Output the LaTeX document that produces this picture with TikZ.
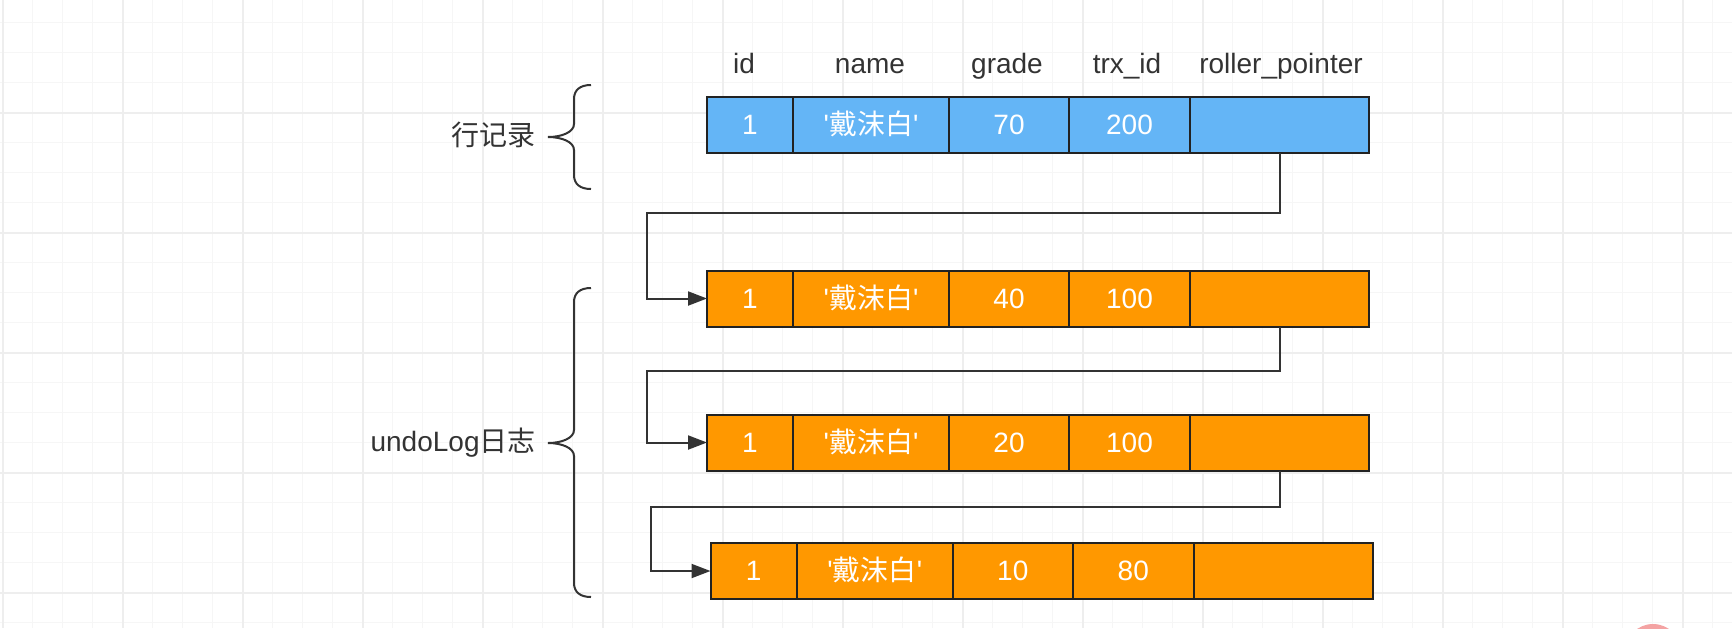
\documentclass[tikz,border=0pt]{standalone}
\usepackage{fontspec}
\setmainfont{Liberation Sans}
\newfontfamily\cjk{Noto Sans CJK SC}
\usetikzlibrary{arrows.meta}
\definecolor{rowblue}{HTML}{64B5F6}
\definecolor{roworange}{HTML}{FF9800}
\definecolor{ink}{HTML}{333333}
\definecolor{edgec}{HTML}{222222}
\definecolor{gridminor}{HTML}{F6F6F6}
\definecolor{gridmajor}{HTML}{EEEEEE}
\definecolor{dotc}{HTML}{F4A3A3}
\newcommand\dmb{\textquotesingle{\cjk 戴沫白}\textquotesingle}
\tikzset{
  txt/.style={font=\fontsize{14pt}{16pt}\selectfont, text height=9.5pt, text depth=0pt},
  cell/.style={txt, draw=edgec, line width=1pt, minimum height=28pt, inner sep=0pt, outer sep=0pt, text=white, anchor=west},
  hdr/.style={txt, text=ink, inner sep=0pt},
  lbl/.style={txt, text=ink, inner sep=0pt, anchor=east},
  conn/.style={draw=ink, line width=1pt, -{Triangle[length=9.5pt,width=7pt]}},
  brace/.style={draw=ink, line width=1pt},
  gmin/.style={draw=gridminor, line width=0.8pt},
  gmaj/.style={draw=gridmajor, line width=1pt},
}
\begin{document}
\begin{tikzpicture}[x=0.5pt,y=-0.5pt]
\useasboundingbox (0,0) rectangle (1732,628);
\begin{scope}
\clip (0,0) rectangle (1732,628);
\fill[white] (0,0) rectangle (1732,628);
\foreach \x in {2.5,32.5,...,1732} {\draw[gmin] (\x,0) -- (\x,628);}
\foreach \y in {22.5,52.5,...,628} {\draw[gmin] (0,\y) -- (1732,\y);}
\foreach \x in {2.5,122.5,...,1732} {\draw[gmaj] (\x,0) -- (\x,628);}
\foreach \y in {112.5,232.5,...,628} {\draw[gmaj] (0,\y) -- (1732,\y);}
\fill[dotc] (1653,652) circle[radius=28];
\end{scope}

% headers
\node[hdr] (hid) at (744,64) {id};
\node[hdr] (hname) at (870,64) {name};
\node[hdr] (hgrade) at (1007,64) {grade};
\node[hdr] (htrx) at (1127,64) {trx\_id};
\node[hdr] (hptr) at (1281,64) {roller\_pointer};

% row 1 (current record)
\node[cell, fill=rowblue, minimum width=43pt] (a1) at (707,124.5) {1};
\node[cell, fill=rowblue, minimum width=78pt] (a2) at (a1.east) {\dmb};
\node[cell, fill=rowblue, minimum width=60pt] (a3) at (a2.east) {70};
\node[cell, fill=rowblue, minimum width=60.5pt] (a4) at (a3.east) {200};
\node[cell, fill=rowblue, minimum width=89.5pt] (a5) at (a4.east) {};

% row 2
\node[cell, fill=roworange, minimum width=43pt] (b1) at (707,298.5) {1};
\node[cell, fill=roworange, minimum width=78pt] (b2) at (b1.east) {\dmb};
\node[cell, fill=roworange, minimum width=60pt] (b3) at (b2.east) {40};
\node[cell, fill=roworange, minimum width=60.5pt] (b4) at (b3.east) {100};
\node[cell, fill=roworange, minimum width=89.5pt] (b5) at (b4.east) {};

% row 3
\node[cell, fill=roworange, minimum width=43pt] (c1) at (707,442.5) {1};
\node[cell, fill=roworange, minimum width=78pt] (c2) at (c1.east) {\dmb};
\node[cell, fill=roworange, minimum width=60pt] (c3) at (c2.east) {20};
\node[cell, fill=roworange, minimum width=60.5pt] (c4) at (c3.east) {100};
\node[cell, fill=roworange, minimum width=89.5pt] (c5) at (c4.east) {};

% row 4
\node[cell, fill=roworange, minimum width=43.25pt] (d1) at (710.5,571) {1};
\node[cell, fill=roworange, minimum width=77.75pt] (d2) at (d1.east) {\dmb};
\node[cell, fill=roworange, minimum width=60.25pt] (d3) at (d2.east) {10};
\node[cell, fill=roworange, minimum width=60.25pt] (d4) at (d3.east) {80};
\node[cell, fill=roworange, minimum width=89.75pt] (d5) at (d4.east) {};

% connectors
\draw[conn] (a5.south) -- ++(0,60) -| ([xshift=-30pt]b1.west) -- (b1.west);
\draw[conn] (b5.south) -- ++(0,44) -| ([xshift=-30pt]c1.west) -- (c1.west);
\draw[conn] (c5.south) -- ++(0,36) -| ([xshift=-29.75pt]d1.west) -- (d1.west);

% braces and labels
\draw[brace] (591,85) .. controls (580,85) and (574,90) .. (574,99) -- (574,124)
  .. controls (574,132) and (562,137) .. (548,137)
  .. controls (562,137) and (574,142) .. (574,150) -- (574,175)
  .. controls (574,184) and (580,189) .. (591,189);
\draw[brace] (591,288) .. controls (580,288) and (574,293) .. (574,302) -- (574,430)
  .. controls (574,438) and (562,443) .. (548,443)
  .. controls (562,443) and (574,448) .. (574,456) -- (574,583)
  .. controls (574,592) and (580,597) .. (591,597);
\node[lbl] (rowlbl) at (536,136) {{\cjk 行记录}};
\node[lbl] (undolbl) at (536,442) {undoLog{\cjk 日志}};
\end{tikzpicture}
\end{document}
